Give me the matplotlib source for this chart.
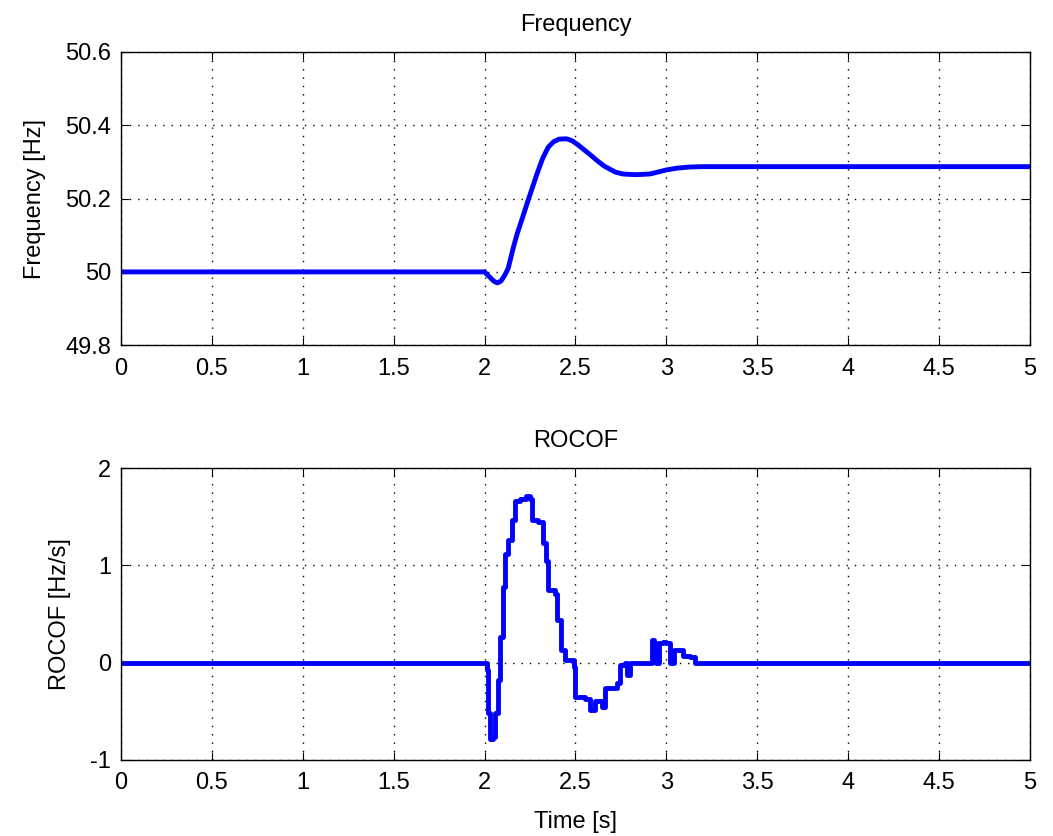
import matplotlib
matplotlib.use('Agg')
import matplotlib.pyplot as plt
import numpy as np

# Frequency response
t_freq = [0, 2.00, 2.02, 2.05, 2.07, 2.09, 2.11, 2.13, 2.16, 2.18, 2.21, 2.24, 2.27, 2.29,
          2.32, 2.35, 2.38, 2.41, 2.45, 2.48, 2.51, 2.54, 2.58, 2.62, 2.66, 2.69, 2.72,
          2.76, 2.83, 2.91, 2.96, 3.00, 3.06, 3.13, 3.20, 5.0]
freq = [50.0, 50.0, 49.99, 49.975, 49.97, 49.975, 49.99, 50.01, 50.07, 50.105, 50.15,
        50.196, 50.24, 50.27, 50.31, 50.34, 50.355, 50.362, 50.363, 50.358, 50.348,
        50.336, 50.32, 50.303, 50.288, 50.28, 50.272, 50.267, 50.265, 50.267, 50.273,
        50.278, 50.283, 50.286, 50.287, 50.287]

# ROCOF (stepwise trace)
t_rocof = [0, 2.00, 2.015, 2.02, 2.03, 2.045, 2.057, 2.075, 2.085, 2.10, 2.11, 2.13, 2.15,
           2.17, 2.195, 2.23, 2.25, 2.26, 2.295, 2.32, 2.34, 2.35, 2.39, 2.40, 2.42, 2.44,
           2.49, 2.50, 2.55, 2.58, 2.61, 2.645, 2.66, 2.70, 2.73, 2.745, 2.77, 2.785, 2.80,
           2.91, 2.92, 2.93, 2.945, 2.96, 2.98, 3.00, 3.02, 3.04, 3.07, 3.09, 3.13, 3.16, 5.0]
rocof = [0, 0, -0.08, -0.52, -0.78, -0.76, -0.52, -0.18, 0.26, 0.78, 1.12, 1.26, 1.47,
         1.66, 1.68, 1.71, 1.68, 1.47, 1.45, 1.23, 1.05, 0.75, 0.71, 0.44, 0.13, 0.03,
         -0.04, -0.35, -0.37, -0.49, -0.39, -0.46, -0.26, -0.26, -0.21, -0.02, 0.0, -0.13, 0.0,
         0.0, 0.23, 0.2, 0.0, 0.2, 0.21, 0.2, 0.0, 0.13, 0.13, 0.07, 0.06, 0.0, 0.0]

xticks = np.arange(0, 5.01, 0.5)
xlabels = ['0', '0.5', '1', '1.5', '2', '2.5', '3', '3.5', '4', '4.5', '5']

plt.rcParams['font.family'] = ['Liberation Sans', 'DejaVu Sans']
plt.rcParams['font.size'] = 17
plt.rcParams['axes.unicode_minus'] = False

fig = plt.figure(figsize=(10.53, 8.36), dpi=100)
ax1 = fig.add_axes([0.115, 0.587, 0.863, 0.351])
ax2 = fig.add_axes([0.115, 0.091, 0.863, 0.349])

def style(ax):
    ax.set_xlim(0, 5)
    ax.set_xticks(xticks)
    ax.set_xticklabels(xlabels)
    ax.grid(True, color='black', linestyle=(0, (1, 5)), linewidth=1)
    ax.tick_params(direction='in', top=True, right=True, length=6, labelsize=17)
    ax.tick_params(axis='x', pad=9)
    ax.tick_params(axis='y', pad=7)
    for s in ax.spines.values():
        s.set_linewidth(1)

ax1.plot(t_freq, freq, color='#0000ff', linewidth=3.5)
style(ax1)
ax1.set_ylim(49.8, 50.6)
ax1.set_yticks([49.8, 50, 50.2, 50.4, 50.6])
ax1.set_yticklabels(['49.8', '50', '50.2', '50.4', '50.6'])
ax1.set_ylabel('Frequency [Hz]', labelpad=14)
ax1.set_title('Frequency', fontsize=17, pad=15)

ax2.step(t_rocof, rocof, where='post', color='#0000ff', linewidth=3.5)
style(ax2)
ax2.set_ylim(-1, 2)
ax2.set_yticks([-1, 0, 1, 2])
ax2.set_ylabel('ROCOF [Hz/s]', labelpad=14)
ax2.set_xlabel('Time [s]', labelpad=12)
ax2.set_title('ROCOF', fontsize=17, pad=15)

fig.savefig('out.png', dpi=100)
